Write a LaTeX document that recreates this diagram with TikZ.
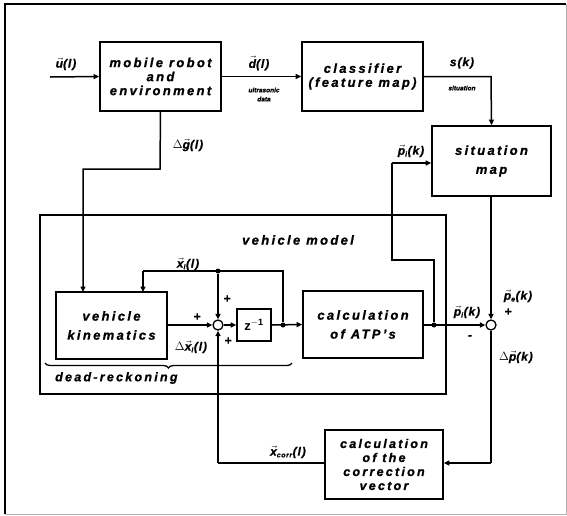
\documentclass[tikz,border=0pt]{standalone}
\usepackage{fontspec}
\setmainfont{Liberation Sans}
\usetikzlibrary{arrows.meta,decorations.pathreplacing}
\newcommand\vv[1]{\ensuremath{\vec{\mbox{#1}}}}
\newcommand\sbs[1]{\ensuremath{_{\mbox{\scriptsize #1}}}}
\tikzset{
  blk/.style={draw,line width=1.7pt,align=center,inner sep=0pt,
    font=\fontsize{13}{14}\selectfont\bfseries\itshape\addfontfeature{LetterSpace=18,FakeBold=1}},
  lbl/.style={inner sep=0pt,font=\fontsize{12}{13}\selectfont\bfseries\itshape\addfontfeature{LetterSpace=8,FakeBold=1}},
  tiny/.style={inner sep=0pt,font=\fontsize{6.5}{7}\selectfont\bfseries\itshape\addfontfeature{FakeBold=1}},
  sumc/.style={draw,circle,line width=1.3pt,minimum size=10pt,inner sep=0pt},
  ln/.style={line width=1.5pt},
  ar/.style={ln,-{Triangle[length=5.5pt,width=5pt]}},
  dot/.style={circle,fill,inner sep=0pt,minimum size=5pt}
}
\begin{document}
\begin{tikzpicture}[x=1pt,y=-1pt]
\useasboundingbox (0,0) rectangle (567,515);
% outer frame
\draw[line width=2.4pt] (5,514) -- (5,4) -- (566,4);
\draw[line width=0.6pt,black!30] (566,4) -- (566,514) -- (5,514);
% blocks
\node[blk,minimum width=121pt,minimum height=69pt] (robot) at (160.5,76.5) {mobile robot\\and\\environment};
\node[blk,minimum width=121pt,minimum height=69pt] (clas) at (362.5,76.5) {classifier\\(feature map)};
\node[blk,minimum width=119pt,minimum height=70pt] (sit) at (491.5,161) {situation\\[5pt]map};
\draw[line width=1.7pt] (40,215) rectangle (446,394);
\node[inner sep=0pt,font=\fontsize{13}{14}\selectfont\bfseries\itshape\addfontfeature{LetterSpace=18,FakeBold=1}] (vm) at (298,240) {vehicle model};
\node[blk,minimum width=111pt,minimum height=67pt] (kin) at (111.5,325.5) {vehicle\\[5pt]kinematics};
\node[sumc] (s1) at (218,325) {};
\node[blk,minimum width=34pt,minimum height=32pt] (z) at (254,325) {$\mathbf{z}^{\mathbf{-1}}$};
\node[blk,minimum width=120pt,minimum height=67pt] (atp) at (363,324.5) {calculation\\[5pt]of ATP's};
\node[sumc] (s2) at (491,325) {};
\node[blk,minimum width=118pt,minimum height=69pt,font=\fontsize{12.5}{14}\selectfont\bfseries\itshape\addfontfeature{LetterSpace=18,FakeBold=1}] (corr) at (384,464.5) {calculation\\of the\\correction\\vector};
% coordinates
\coordinate (uin) at (50,77);
\coordinate (c1) at (491,76.5);
\coordinate (g1) at (160,169);
\coordinate (g2) at (83,169);
\coordinate (kt1) at (83,292);
\node[dot] (j1) at (283,325) {};
\coordinate (f1) at (283,271);
\node[dot] (j2) at (218,271) {};
\coordinate (f2) at (143,271);
\coordinate (kt2) at (143,292);
\node[dot] (j3) at (434,325) {};
\coordinate (p1) at (434,260);
\coordinate (p2) at (392,260);
\coordinate (p3) at (392,163);
\coordinate (e1) at (491,463);
\coordinate (e2) at (218,463);
% connectors
\draw[ar] (uin) -- (robot.west);
\draw[ar] (robot.east) -- (clas.west);
\draw[ar] (clas.east) -- (c1) -- (sit.north);
\draw[ar] (robot.south) -- (g1) -- (g2) -- (kt1);
\draw[ar] (kin.east |- s1) -- (s1.west);
\draw[ar] (s1.east) -- (z.west);
\draw[ar] (z.east) -- (atp.west);
\draw[ln] (j1) -- (f1) -- (f2);
\draw[ar] (f2) -- (kt2);
\draw[ar] (j2) -- (s1.north);
\draw[ar] (atp.east |- s2) -- (s2.west);
\draw[ln] (j3) -- (p1) -- (p2) -- (p3);
\draw[ar] (p3) -- (p3 -| sit.west);
\draw[ar] (sit.south -| s2) -- (s2.north);
\draw[ln] (s2.south) -- (e1);
\draw[ar] (e1) -- (corr.east |- e1);
\draw[ln] (corr.west |- e2) -- (e2);
\draw[ar] (e2) -- (s1.south);
% brace
\draw[line width=1.3pt,decorate,decoration={brace,amplitude=5pt,mirror}] (45,363) -- (292,363);
\node[inner sep=0pt,anchor=west,font=\fontsize{12.5}{13}\selectfont\bfseries\itshape\addfontfeature{LetterSpace=18,FakeBold=1}] (dr) at (55,378) {dead-reckoning};
% labels
\node[lbl] (lu) at (66,64) {\vv{u}(l)};
\node[lbl] (ld) at (259,63) {\vv{d}(l)};
\node[tiny] (lus) at (264,90) {ultrasonic};
\node[tiny] (lda) at (264,99) {data};
\node[lbl] (ls) at (462,63) {s(k)};
\node[tiny] (lsi) at (462,88) {situation};
\node[lbl] (lg) at (188,145) {$\Delta$\vv{g}(l)};
\node[lbl] (lpi) at (411,151) {\vv{p}\sbs{i}(k)};
\node[lbl] (lxi) at (188,264) {\vv{x}\sbs{i}(l)};
\node[lbl] (pl1) at (197,317) {+};
\node[lbl] (pl2) at (227,299) {+};
\node[lbl] (pl3) at (228,341) {+};
\node[lbl] (ldx) at (191,347) {$\Delta$\vv{x}\sbs{i}(l)};
\node[lbl] (lpi2) at (467,312) {\vv{p}\sbs{i}(k)};
\node[lbl] (mi) at (470,337) {-};
\node[lbl] (lpe) at (518,296) {\vv{p}\sbs{e}(k)};
\node[lbl] (pl4) at (508,312) {+};
\node[lbl] (ldp) at (516,357) {$\Delta$\vv{p}(k)};
\node[lbl] (lxc) at (288,452) {\vv{x}\sbs{corr}(l)};
\end{tikzpicture}
\end{document}
